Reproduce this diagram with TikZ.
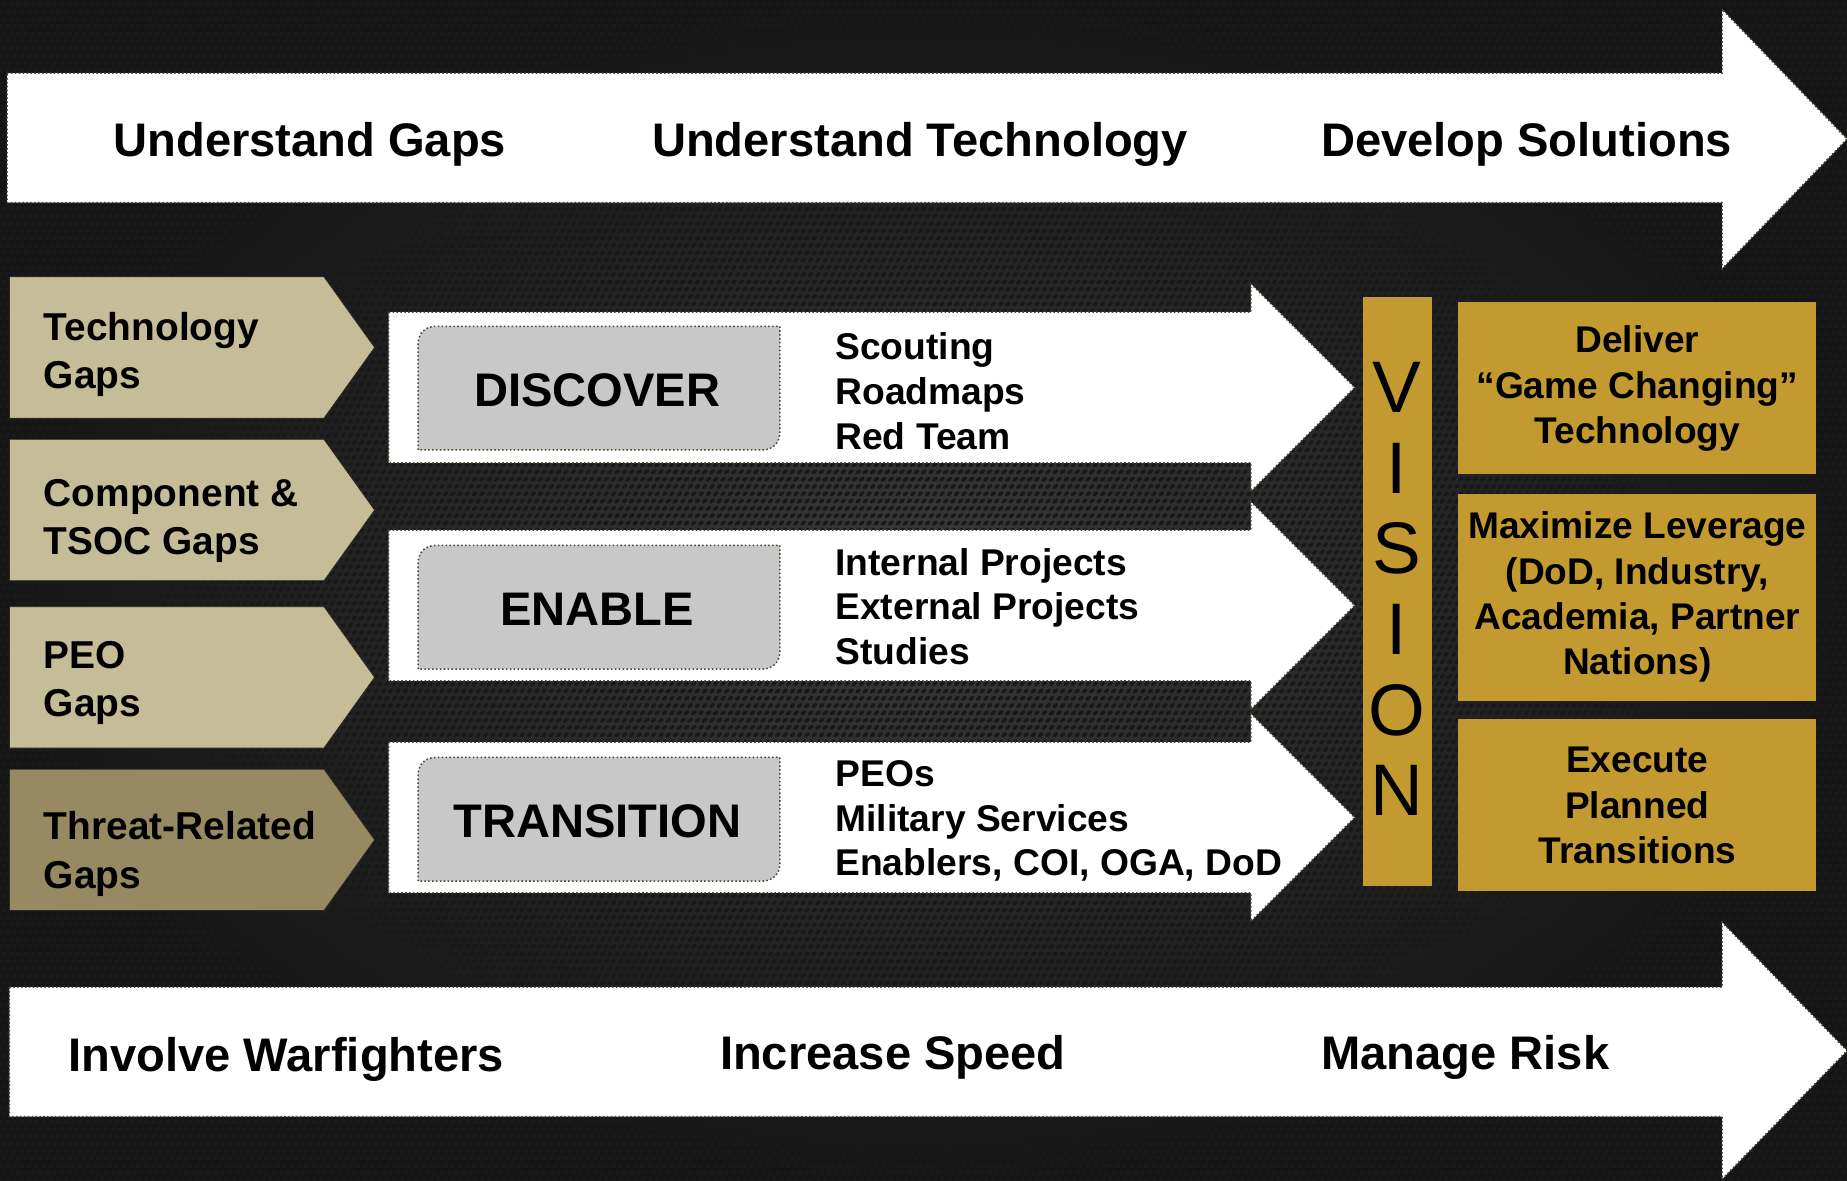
\documentclass[tikz,border=0pt]{standalone}
\usepackage{fontspec}
\setmainfont{Liberation Sans}
\usetikzlibrary{patterns.meta}
\definecolor{bgin}{HTML}{3A3A3A}
\definecolor{bgout}{HTML}{151515}
\definecolor{edgecol}{HTML}{4A4530}
\definecolor{khaki}{HTML}{C5BD98}
\definecolor{darkkhaki}{HTML}{978A62}
\definecolor{boxgray}{HTML}{C8C8C8}
\definecolor{gold}{HTML}{C29A30}
\newcommand\myfs[2]{\fontsize{#1}{#2}\selectfont}
\tikzdeclarepattern{
  name=carbonholes,
  type=uncolored,
  bottom left={(-3.2pt,-3.2pt)},
  top right={(3.2pt,3.2pt)},
  tile size={(6.2pt,6.2pt)},
  tile transformation={xslant=0.5},
  code={\fill (0pt,0pt) circle (2.1pt);}
}
\begin{document}
\begin{tikzpicture}[x=1pt,y=-1pt,
  bigarrow/.style={fill=white, draw=edgecol, line width=1.3pt, dotted},
  gapshape/.style={fill=khaki, draw=edgecol!60!black, line width=0.6pt},
  grayshape/.style={fill=boxgray, draw=edgecol, line width=1.3pt, dotted},
  goldshape/.style={fill=gold, draw=none},
  headtext/.style={font=\bfseries\myfs{40}{48}, text=black, anchor=base, inner sep=0pt},
  gaptext/.style={font=\bfseries\myfs{33}{41}, text=black, align=left, anchor=west, inner sep=0pt},
  boxtext/.style={font=\bfseries\myfs{40}{48}, text=black, inner sep=0pt},
  listtext/.style={font=\bfseries\myfs{31.6}{38}, text=black, align=left, anchor=west, inner sep=0pt},
  goldtext/.style={font=\bfseries\myfs{31.5}{38.5}, text=black, align=center, inner sep=0pt},
  visiontext/.style={font=\myfs{62}{68.5}, text=black, align=center, inner sep=0pt}
]
\useasboundingbox (0,0) rectangle (1568,1002);
% background
\shade[inner color=bgin, outer color=bgout] (0,0) rectangle (1568,1002);
\fill[pattern=carbonholes, pattern color=black!90] (0,0) rectangle (1568,1002);

% top arrow
\path[bigarrow] (6,62) -- (1462,62) -- (1462,8) -- (1568,118) -- (1462,228) -- (1462,172) -- (6,172) -- cycle;
\node[headtext] (ug) at (263,133) {Understand Gaps};
\node[headtext] (ut) at (781,133) {Understand Technology};
\node[headtext] (ds) at (1296,133) {Develop Solutions};

% bottom arrow
\path[bigarrow] (8,838) -- (1462,838) -- (1462,783) -- (1568,892) -- (1462,1001) -- (1462,948) -- (8,948) -- cycle;
\node[headtext] (iw) at (243,910) {Involve Warfighters};
\node[headtext] (is) at (758,908) {Increase Speed};
\node[headtext] (mr) at (1244,908) {Manage Risk};

% gap chevrons
\path[gapshape] (8,235) -- (275,235) -- (318,295) -- (275,355) -- (8,355) -- cycle;
\path[gapshape] (8,373) -- (275,373) -- (318,433) -- (275,493) -- (8,493) -- cycle;
\path[gapshape] (8,515) -- (275,515) -- (318,575) -- (275,635) -- (8,635) -- cycle;
\path[gapshape, fill=darkkhaki] (8,653) -- (275,653) -- (318,713) -- (275,773) -- (8,773) -- cycle;
\node[gaptext] (tg) at (37,301) {Technology\\Gaps};
\node[gaptext] (cg) at (37,442) {Component \&\\TSOC Gaps};
\node[gaptext] (pg) at (37,580) {PEO\\Gaps};
\node[gaptext] (rg) at (37,725) {Threat-Related\\Gaps};

% process arrows
\path[bigarrow] (330,265) -- (1062,265) -- (1062,241) -- (1150,329) -- (1062,417) -- (1062,393) -- (330,393) -- cycle;
\path[bigarrow] (330,450) -- (1062,450) -- (1062,426) -- (1150,514) -- (1062,602) -- (1062,578) -- (330,578) -- cycle;
\path[bigarrow] (330,630) -- (1062,630) -- (1062,606) -- (1150,694) -- (1062,782) -- (1062,758) -- (330,758) -- cycle;

% gray boxes (rounded top-left and bottom-right)
\path[grayshape] (355,382) -- (355,292) .. controls (355,283) and (361,277) .. (370,277) -- (662,277) -- (662,367) .. controls (662,376) and (656,382) .. (647,382) -- cycle;
\path[grayshape] (355,568) -- (355,478) .. controls (355,469) and (361,463) .. (370,463) -- (662,463) -- (662,553) .. controls (662,562) and (656,568) .. (647,568) -- cycle;
\path[grayshape] (355,748) -- (355,658) .. controls (355,649) and (361,643) .. (370,643) -- (662,643) -- (662,733) .. controls (662,742) and (656,748) .. (647,748) -- cycle;
\node[boxtext] (disc) at (507,331) {DISCOVER};
\node[boxtext] (enab) at (507,517) {ENABLE};
\node[boxtext] (tran) at (507,697) {TRANSITION};

% lists
\node[listtext] (l1) at (709,332) {Scouting\\Roadmaps\\Red Team};
\node[listtext] (l2) at (709,515) {Internal Projects\\External Projects\\Studies};
\node[listtext] (l3) at (709,697) {PEOs\\Military Services\\Enablers, COI, OGA, DoD};

% vision bar
\path[goldshape] (1157,252) rectangle (1216,752);
\node[visiontext] (vis) at (1186,500) {V\\I\\S\\I\\O\\N};

% gold boxes
\path[goldshape] (1238,256) rectangle (1542,402);
\path[goldshape] (1238,419) rectangle (1542,595);
\path[goldshape] (1238,610) rectangle (1542,756);
\node[goldtext] (g1) at (1390,330) {Deliver\\“Game Changing”\\Technology};
\node[goldtext] (g2) at (1390,507) {Maximize Leverage\\(DoD, Industry,\\Academia, Partner\\Nations)};
\node[goldtext] (g3) at (1390,684) {Execute\\Planned\\Transitions};
\end{tikzpicture}
\end{document}
